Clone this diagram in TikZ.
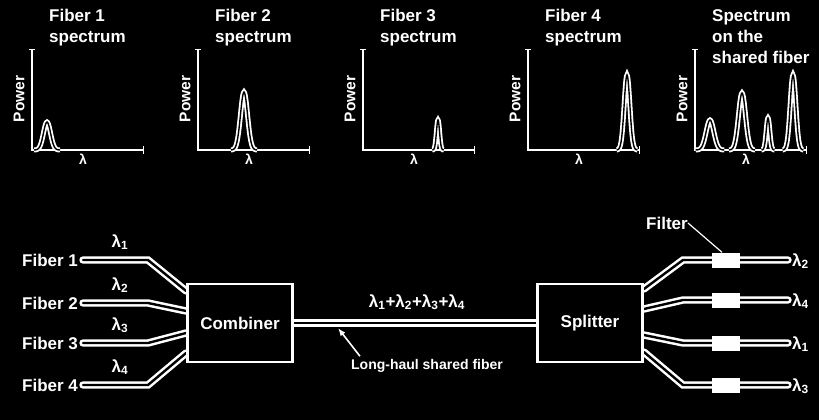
\documentclass[tikz,border=0pt]{standalone}
\usepackage{fontspec}
\setmainfont{Liberation Sans}
\usetikzlibrary{arrows.meta,calc,positioning}
\pgfdeclarelayer{bg}
\pgfdeclarelayer{fb}
\pgfsetlayers{bg,fb,main}
\newcommand\lam[1]{λ\textsubscript{#1}}

\begin{document}
\begin{tikzpicture}[x=1pt,y=-1pt,
  every node/.style={font=\fontsize{17}{21}\selectfont\bfseries,text=white,inner sep=0pt,align=left},
  ax/.style={draw=white,line width=2.8pt},
  pk/.style={draw=white,line width=1.8pt,double=black,double distance=1.4pt},
  fib/.style={draw=white,line width=2.5pt,double=black,double distance=2.4pt,line cap=round},
  bx/.style={draw=white,fill=black,line width=2.8pt,minimum width=105pt,minimum height=78pt,align=center},
  flt/.style={fill=white,minimum width=28pt,minimum height=15pt},
  a/.style={-{Latex[length=8pt,width=6pt]},draw=white,line width=1.6pt}]
  \begin{pgfonlayer}{bg}
    \fill[black] (0,0) rectangle (819,420);
  \end{pgfonlayer}
  % spectra
  \foreach \ax/\ttl [count=\n] in {32/{Fiber 1\\spectrum},198/{Fiber 2\\spectrum},363/{Fiber 3\\spectrum},528/{Fiber 4\\spectrum},695/{Spectrum\\on the\\shared fiber}}{
    \draw[ax] (\ax,50) -- (\ax,150) -- (\ax+111,150);
    \draw[ax,line width=1pt] (\ax-3,50) -- (\ax+3,50) (\ax+111,146) -- (\ax+111,154);
    \node[anchor=north west] (ttl\n) at (\ax+17,9) {\ttl};
    \node[rotate=90,font=\fontsize{15.5}{15}\selectfont\bfseries] (pw\n) at (\ax-13,99) {Power};
    \node[font=\fontsize{14}{14}\selectfont\bfseries] (lx\n) at (\ax+51,159) {λ};
  }
  \foreach \c/\h/\s in {47/28/5,244/58/5,438/30/2.2,627/75/4,710/30/5.5,742/57/5,768/32/2.5,793/75/4}
    \draw[pk] plot[variable=\t,domain={-2.6*\s}:{2.6*\s},samples=41,smooth] ({\c+\t},{150-\h*exp(-(\t/\s)^2)});
  % network
  \node[bx] (comb) at (240,323) {Combiner};
  \node[bx] (split) at (590,323) {Splitter};
  \foreach \i/\y in {1/260,2/303,3/343,4/385}{
    \node[anchor=west] (f\i) at (22,\y) {Fiber \i};
    \coordinate (s\i) at (83,\y);
    \node (l\i) at (120,\y-18) {\lam{\i}};
  }
  \foreach \i/\y/\l in {1/260/2,2/300/4,3/343/1,4/385/3}{
    \coordinate (o\i) at (788,\y);
    \node[anchor=west] (m\i) at (792,\y+1) {\lam{\l}};
    \node[flt] (g\i) at (726,\y) {};
  }
  \begin{pgfonlayer}{fb}
    \foreach \i/\d in {1/-32,2/-12,3/10,4/30}{
      \draw[fib] (s\i) -- ++(65,0) -- ($(comb.west)+(0,\d)$);
    }
    \foreach \i/\d in {1/-34,2/-14,3/12,4/29}{
      \draw[fib] ($(split.east)+(0,\d)$) -- ($(o\i)+(-105,0)$) -- (o\i);
    }
    \draw[fib] (comb) -- (split);
  \end{pgfonlayer}
  \node (sum) at (417,302) {\lam1+\lam2+\lam3+\lam4};
  \node[font=\fontsize{14}{14}\selectfont\bfseries] (lh) at (427,366) {Long-haul shared fiber};
  \coordinate (lhp) at (338,328);
  \draw[a] ([shift={(9,-3)}]lh.north west) -- (lhp);
  \node (flab) at (667,223) {Filter};
  \draw[white,line width=1.2pt] (flab.east) -- ([xshift=-4pt]g1.north);
\end{tikzpicture}
\end{document}
